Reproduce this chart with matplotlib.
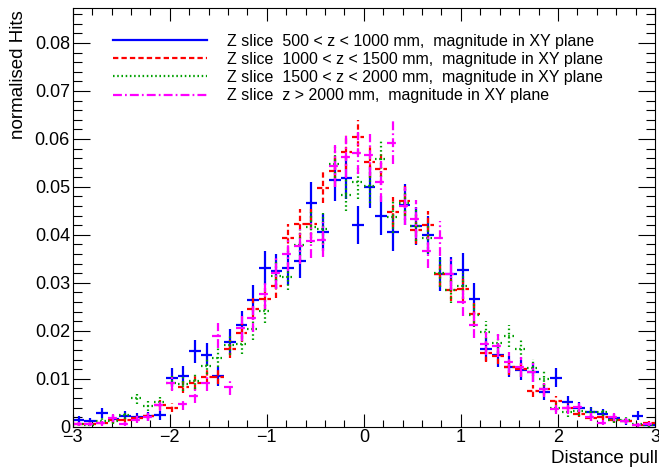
import numpy as np
import matplotlib
matplotlib.use("Agg")
import matplotlib.pyplot as plt
from matplotlib.lines import Line2D
from matplotlib.ticker import MultipleLocator

plt.rcParams["font.family"] = ["Liberation Sans", "DejaVu Sans"]

# 50 bins on [-3, 3], each histogram normalised to unit sum
edges = np.linspace(-3.0, 3.0, 51)

h_500_1000 = [
    0.0015, 0.0012, 0.0028, 0.0016, 0.0023, 0.0020, 0.0022, 0.0024, 0.0102, 0.0106,
    0.0157, 0.0150, 0.0105, 0.0177, 0.0212, 0.0264, 0.0330, 0.0325, 0.0330, 0.0346,
    0.0467, 0.0405, 0.0515, 0.0519, 0.0420, 0.0500, 0.0440, 0.0405, 0.0463, 0.0419,
    0.0400, 0.0318, 0.0318, 0.0326, 0.0267, 0.0161, 0.0149, 0.0125, 0.0118, 0.0113,
    0.0072, 0.0102, 0.0051, 0.0040, 0.0030, 0.0027, 0.0018, 0.0011, 0.0023, 0.0004,
]
h_1000_1500 = [
    0.0006, 0.0006, 0.0008, 0.0014, 0.0013, 0.0018, 0.0022, 0.0045, 0.0040, 0.0083,
    0.0091, 0.0104, 0.0104, 0.0162, 0.0196, 0.0245, 0.0266, 0.0294, 0.0394, 0.0423,
    0.0423, 0.0498, 0.0533, 0.0573, 0.0603, 0.0552, 0.0537, 0.0448, 0.0470, 0.0411,
    0.0420, 0.0318, 0.0286, 0.0287, 0.0235, 0.0153, 0.0148, 0.0125, 0.0120, 0.0074,
    0.0078, 0.0053, 0.0040, 0.0027, 0.0018, 0.0020, 0.0014, 0.0012, 0.0004, 0.0007,
]
h_1500_2000 = [
    0.0005, 0.0004, 0.0012, 0.0012, 0.0025, 0.0059, 0.0044, 0.0052, 0.0091, 0.0089,
    0.0095, 0.0127, 0.0144, 0.0170, 0.0173, 0.0203, 0.0242, 0.0315, 0.0313, 0.0378,
    0.0416, 0.0413, 0.0548, 0.0484, 0.0510, 0.0502, 0.0559, 0.0437, 0.0466, 0.0419,
    0.0393, 0.0320, 0.0286, 0.0294, 0.0233, 0.0197, 0.0175, 0.0189, 0.0162, 0.0123,
    0.0100, 0.0040, 0.0030, 0.0032, 0.0030, 0.0031, 0.0014, 0.0015, 0.0006, 0.0003,
]
h_2000_up = [
    0.0006, 0.0006, 0.0007, 0.0018, 0.0005, 0.0015, 0.0021, 0.0046, 0.0092, 0.0048,
    0.0065, 0.0092, 0.0190, 0.0082, 0.0205, 0.0226, 0.0276, 0.0320, 0.0360, 0.0376,
    0.0388, 0.0390, 0.0544, 0.0562, 0.0571, 0.0566, 0.0511, 0.0592, 0.0460, 0.0433,
    0.0367, 0.0393, 0.0318, 0.0260, 0.0212, 0.0173, 0.0169, 0.0134, 0.0125, 0.0113,
    0.0078, 0.0037, 0.0039, 0.0042, 0.0020, 0.0008, 0.0021, 0.0012, 0.0004, 0.0005,
]

# raw entries behind each normalised histogram (for the Poisson errors)
n_entries = [2630, 4750, 3900, 2900]

labels = [
    "Z slice  500 < z < 1000 mm,  magnitude in XY plane",
    "Z slice  1000 < z < 1500 mm,  magnitude in XY plane",
    "Z slice  1500 < z < 2000 mm,  magnitude in XY plane",
    "Z slice  z > 2000 mm,  magnitude in XY plane",
]
colors = ["#0000ff", "#ff0000", "#00a000", "#ff00ff"]
styles = ["-", (0, (2.4, 1.4)), (0, (0.7, 1.2)), (0, (4.0, 1.4, 0.8, 1.4))]

fig = plt.figure(figsize=(6.59, 4.69), dpi=100)
ax = fig.add_axes([0.1103, 0.0902, 0.8836, 0.8928])

centers = 0.5 * (edges[:-1] + edges[1:])
half = 0.5 * (edges[1] - edges[0])

lw = 1.6
for vals, n, col, ls in zip([h_500_1000, h_1000_1500, h_1500_2000, h_2000_up],
                            n_entries, colors, styles):
    v = np.asarray(vals)
    err = np.sqrt(v / n)
    ax.hlines(v, centers - half, centers + half, colors=col, linestyles=[ls], lw=lw)
    ax.vlines(centers, v - err, v + err, colors=col, linestyles=[ls], lw=lw)

ax.set_xlim(-3, 3)
ax.set_ylim(0, 0.0873)
ax.xaxis.set_major_locator(MultipleLocator(1))
ax.xaxis.set_minor_locator(MultipleLocator(0.2))
ax.yaxis.set_major_locator(MultipleLocator(0.01))
ax.yaxis.set_minor_locator(MultipleLocator(0.002))
ax.yaxis.set_major_formatter(plt.FuncFormatter(lambda y, _: "0" if y == 0 else f"{y:.2f}"))

ax.tick_params(which="both", direction="in", top=True, right=True, width=0.8,
               labelsize=13, pad=2)
ax.tick_params(axis="x", which="major", length=9.4)
ax.tick_params(axis="x", which="minor", length=5)
ax.tick_params(axis="y", which="major", length=12)
ax.tick_params(axis="y", which="minor", length=6.5)
for sp in ax.spines.values():
    sp.set_linewidth(0.8)

ax.set_xlabel("Distance pull", fontsize=13.5, loc="right")
ax.xaxis.set_label_coords(1.0052, -0.055)
ax.set_ylabel("normalised Hits", fontsize=13.5, loc="top")
ax.yaxis.set_label_coords(-0.0785, 0.995)

handles = [Line2D([], [], color=c, ls=s, lw=lw) for c, s in zip(colors, styles)]
ax.legend(handles, labels, loc="upper left", bbox_to_anchor=(0.069, 0.939),
          frameon=False, fontsize=11.5, handlelength=5.9, handletextpad=1.25,
          labelspacing=0.2, borderpad=0, borderaxespad=0)

fig.savefig("out.png", dpi=100)
